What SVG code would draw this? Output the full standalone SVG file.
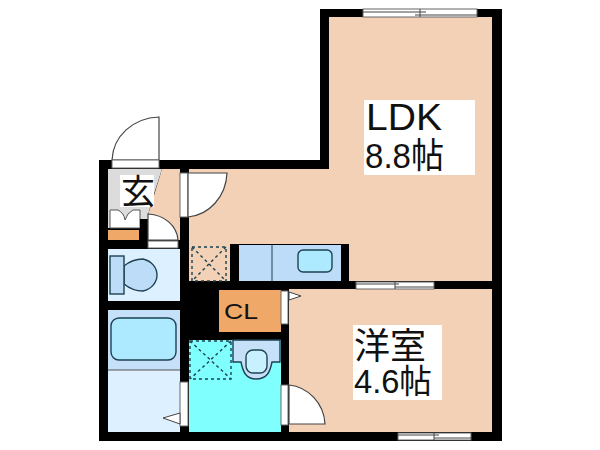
<svg xmlns="http://www.w3.org/2000/svg" width="600" height="450" viewBox="0 0 600 450">
<style>
.wall{fill:#000}
.peach{fill:#f2d1b6}
.open{fill:#fff;stroke:#666;stroke-width:1}
.door{fill:#fff;stroke:#444;stroke-width:1.2}
.win{stroke:#444;stroke-width:1;fill:none}
.fix{stroke:#1d4250;stroke-width:1.4}
.dot{fill:none;stroke:#1d4250;stroke-width:1.4;stroke-dasharray:3 3}
text{font-family:"Liberation Sans","Noto Sans CJK JP",sans-serif;fill:#111}
</style>
<rect width="600" height="450" fill="#fff"/>
<g id="structure">
<path class="wall" d="M320 9H502V441H99V160H320Z"/>
<path class="peach" d="M329 17H492V281H189V169H329Z"/>
<rect class="peach" x="289" y="289" width="203" height="143"/>
<path fill="#f2d1b6" d="M162 169H180V240H148V215Z"/>
</g>
<g id="genkan">
<path fill="#dcdcdc" d="M108 169H162L153 197 148 215V228H108Z"/>
<rect x="120" y="175" width="34" height="32" fill="#fff"/>
<text x="138" y="204" font-size="34" text-anchor="middle">玄</text>
<path fill="#fff" stroke="#555" d="M110 210H118Q124 213 125 220 127 213 133 210H140V228H110Z"/>
<rect x="140" y="219" width="8" height="29" class="wall"/>
<rect x="108" y="230" width="31" height="10" fill="#f0a868"/>
<path class="door" d="M112 160C113 136 133 118 159 117V160Z"/>
<rect class="open" x="112" y="160" width="47" height="8"/>
<path class="door" d="M148 214C165 215 177 226 178 240H148Z"/>
<rect class="open" x="148" y="241" width="30" height="7"/>
</g>
<g id="toilet">
<rect x="108" y="249" width="72" height="52" fill="#ddf0ff"/>
<path fill="#bcdcf8" class="fix" d="M124 266C130 261 137 259 143 259 152 261 157 268 157 275 157 282 152 289 143 291 137 291 130 289 124 284Z"/>
<rect x="110" y="256" width="14" height="38" fill="#bcdcf8" class="fix"/>
</g>
<g id="bath">
<rect x="108" y="310" width="72" height="60" fill="#c5e0f8"/>
<rect x="108" y="370" width="72" height="62" fill="#ddf0ff"/>
<path d="M108 370H180" stroke="#555"/>
<rect x="111" y="318" width="65" height="42" rx="8" fill="#aeeaff" class="fix"/>
<rect class="open" x="180" y="382" width="8" height="44"/>
<path fill="#fff" stroke="#444" d="M163 418L180 413V424Z"/>
</g>
<g id="closet">
<rect x="219" y="290" width="62" height="42" fill="#f0a868"/>
<text x="224" y="319" font-size="22" textLength="34" lengthAdjust="spacingAndGlyphs">CL</text>
<rect class="open" x="281" y="291" width="7" height="33"/>
<path fill="#fff" stroke="#444" d="M289 292L301 296 289 300Z"/>
</g>
<g id="wc">
<rect x="189" y="340" width="92" height="92" fill="#80ffff"/>
<rect class="dot" x="190" y="341" width="41" height="38"/>
<path class="dot" d="M190 341L231 379M231 341L190 379"/>
<path fill="#c5e0f8" class="fix" d="M233 340V362H241C243 372 246 379 256 379 267 379 270 372 272 362H280V340Z"/>
<rect x="246" y="350" width="21" height="23" rx="7" fill="#c9f0ff" class="fix"/>
<rect class="open" x="281" y="385" width="7" height="40"/>
</g>
<g id="kitchen">
<rect class="wall" x="230" y="244" width="119" height="37"/>
<rect x="239" y="245" width="102" height="36" fill="#bcdcf8"/>
<path d="M272 245V281" stroke="#1d4250"/>
<rect x="298" y="250" width="34" height="22" rx="5" fill="#aeeaff" class="fix"/>
<rect class="dot" x="192" y="247" width="34" height="34"/>
<path class="dot" d="M192 247L226 281M226 247L192 281"/>
</g>
<g id="ldk">
<rect class="open" x="180" y="173" width="8" height="44"/>
<path class="door" d="M188 173H227C226 197 209 215 188 217Z"/>
<rect class="open" x="363" y="9" width="114" height="8"/>
<path class="win" d="M363 12H426M415 15H477M420 9V17"/>
<rect class="open" x="356" y="282" width="78" height="7"/>
<path class="win" d="M356 284H399M395 287H434M395 282V289"/>
<rect x="364" y="100" width="111" height="75" fill="#fff"/>
<text x="366" y="130" font-size="37" textLength="76" lengthAdjust="spacingAndGlyphs">LDK</text>
<text x="365" y="168" font-size="35" textLength="79" lengthAdjust="spacingAndGlyphs">8.8帖</text>
</g>
<g id="bedroom">
<path class="door" d="M289 385C308 387 324 403 325 424H289Z"/>
<rect class="open" x="398" y="433" width="73" height="7"/>
<path class="win" d="M398 435H439M434 438H471M434 433V440"/>
<rect x="353" y="325" width="89" height="75" fill="#fff"/>
<text x="354" y="359" font-size="36">洋室</text>
<text x="354" y="393" font-size="33" textLength="78" lengthAdjust="spacingAndGlyphs">4.6帖</text>
</g>
<g id="connectors"></g>
</svg>
